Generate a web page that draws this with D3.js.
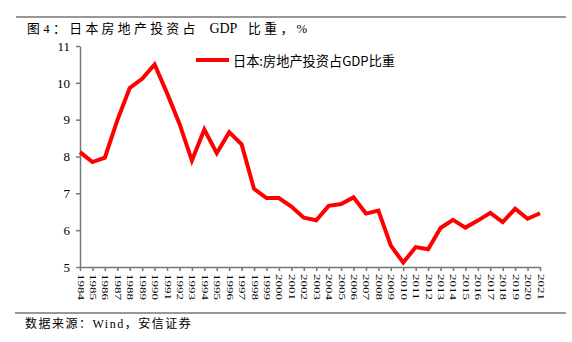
<!DOCTYPE html>
<html><head><meta charset="utf-8">
<script src="https://cdn.jsdelivr.net/npm/d3@7/dist/d3.min.js"></script>
<style>
html,body{margin:0;padding:0;background:#fff;}
svg{display:block;}
</style></head>
<body>
<svg id="chart" width="572" height="342"></svg>
<script>
const years = [1984,1985,1986,1987,1988,1989,1990,1991,1992,1993,1994,1995,1996,1997,1998,1999,2000,2001,2002,2003,2004,2005,2006,2007,2008,2009,2010,2011,2012,2013,2014,2015,2016,2017,2018,2019,2020,2021];
const values = [8.12,7.85,7.97,8.98,9.86,10.11,10.50,9.72,8.89,7.89,8.73,8.09,8.66,8.33,7.12,6.87,6.87,6.64,6.34,6.27,6.66,6.71,6.89,6.45,6.53,5.58,5.12,5.54,5.48,6.06,6.28,6.07,6.26,6.47,6.22,6.58,6.31,6.46];
const yTicks = [5,6,7,8,9,10,11];
const seriesName = "日本:房地产投资占GDP比重";
const titleParts = ["图4：日本房地产投资占 ", "GDP", " 比重，%"];
const sourceText = "数据来源：Wind，安信证券";

const svg = d3.select("#chart");
const serif = "'Liberation Serif','Noto Sans CJK SC',serif";
const sans = "'Noto Sans CJK SC','Liberation Sans',sans-serif";

// frame rules
svg.append("line").attr("x1",16).attr("x2",566).attr("y1",17).attr("y2",17)
  .attr("stroke","#333").attr("stroke-width",1.2);
svg.append("line").attr("x1",15).attr("x2",566).attr("y1",313).attr("y2",313)
  .attr("stroke","#333").attr("stroke-width",1.2);

const title = svg.append("text").attr("x",27).attr("y",33)
  .attr("font-family",serif).attr("fill","#000")
  .attr("xml:space","preserve");
title.selectAll("tspan").data(titleParts).enter().append("tspan")
  .attr("letter-spacing",(d,i)=> i===1 ? 0 : 3.4)
  .attr("font-size",(d,i)=> i===1 ? 14 : 12.8)
  .attr("dx",(d,i)=> i===0 ? 0 : 4)
  .text(d=>d);
svg.append("text").attr("x",25).attr("y",328)
  .attr("font-family",serif).attr("font-size",12).attr("letter-spacing",1.5)
  .attr("fill","#000").text(sourceText);

const x = d3.scalePoint().domain(years).range([80,540]);
const y = d3.scaleLinear().domain([5,11]).range([267,46]);

// y axis
const yAxis = d3.axisLeft(y).tickValues(yTicks).tickFormat(d3.format("d"))
  .tickSize(4).tickSizeOuter(0).tickPadding(6);
const gy = svg.append("g").attr("transform","translate(80,0)").call(yAxis);
gy.select(".domain").attr("stroke","#777").attr("stroke-width",1.5);
gy.selectAll(".tick line").attr("stroke","#777").attr("stroke-width",1.5);
gy.selectAll(".tick text").attr("font-family",serif).attr("font-size",13).attr("fill","#000");

// x axis
const xAxis = d3.axisBottom(x).tickSize(4).tickSizeOuter(0).tickPadding(0);
const gx = svg.append("g").attr("transform","translate(0,267)").call(xAxis);
gx.select(".domain").attr("stroke","#777").attr("stroke-width",1.5);
gx.selectAll(".tick line").attr("stroke","#777").attr("stroke-width",1.5);
gx.selectAll(".tick text")
  .attr("font-family",serif).attr("font-size",13).attr("fill","#000")
  .attr("text-anchor","start").attr("dy",null).attr("y",0)
  .attr("transform","translate(0,7) rotate(90) scale(1,0.62)")
  .attr("dominant-baseline","central");

// line
const line = d3.line().x((d,i)=>x(years[i])).y(d=>y(d));
svg.append("path").datum(values).attr("d",line)
  .attr("fill","none").attr("stroke","#ff0000").attr("stroke-width",4)
  .attr("stroke-linejoin","miter").attr("stroke-linecap","butt");

// legend
svg.append("line").attr("x1",196).attr("x2",229).attr("y1",60).attr("y2",60)
  .attr("stroke","#ff0000").attr("stroke-width",4);
svg.append("text").attr("x",233).attr("y",60).attr("dominant-baseline","central")
  .attr("font-family",sans).attr("font-size",13.2).attr("fill","#000").text(seriesName);
</script>
</body></html>
